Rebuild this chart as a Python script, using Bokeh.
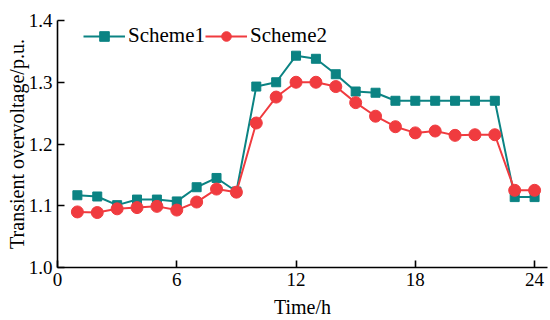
from bokeh.plotting import figure
from bokeh.models import Range1d, FixedTicker, Legend, LegendItem, PrintfTickFormatter
from bokeh.embed import file_html
from bokeh.resources import INLINE

hours = list(range(1, 25))
scheme1 = [1.117, 1.115, 1.101, 1.110, 1.110, 1.107, 1.130, 1.145, 1.123, 1.293, 1.300, 1.343,
           1.338, 1.313, 1.285, 1.283, 1.270, 1.270, 1.270, 1.270, 1.270, 1.270, 1.114, 1.114]
scheme2 = [1.090, 1.089, 1.095, 1.097, 1.099, 1.093, 1.106, 1.127, 1.122, 1.234, 1.276, 1.300,
           1.300, 1.293, 1.267, 1.245, 1.228, 1.218, 1.221, 1.214, 1.215, 1.215, 1.125, 1.125]
x_ticks = [0, 6, 12, 18, 24]
y_ticks = [1.0, 1.1, 1.2, 1.3, 1.4]

FONT = "Liberation Serif"
TEAL = "#0b8383"
RED = "#f03b3f"

p = figure(width=550, height=320, output_backend="svg", toolbar_location=None,
           x_range=Range1d(0, 24.65), y_range=Range1d(1.0, 1.4),
           min_border_left=57, min_border_right=3, min_border_top=20, min_border_bottom=52)
p.outline_line_color = None
p.xgrid.visible = False
p.ygrid.visible = False
p.background_fill_color = "white"

l1 = p.line(hours, scheme1, line_color=TEAL, line_width=2)
m1 = p.scatter(hours, scheme1, marker="square", size=9, fill_color=TEAL, line_color=TEAL)
l2 = p.line(hours, scheme2, line_color=RED, line_width=2)
m2 = p.scatter(hours, scheme2, marker="circle", size=12, fill_color=RED, line_color=RED)

for ax in (p.xaxis[0], p.yaxis[0]):
    ax.axis_line_color = "black"
    ax.axis_line_width = 1.6
    ax.major_tick_line_color = "black"
    ax.major_tick_line_width = 1.6
    ax.major_tick_in = 7
    ax.major_tick_out = 0
    ax.minor_tick_line_color = None
    ax.major_label_text_font = FONT
    ax.major_label_text_font_size = "19px"
    ax.major_label_text_color = "black"
    ax.axis_label_text_font = FONT
    ax.axis_label_text_font_size = "20px"
    ax.axis_label_text_font_style = "normal"
    ax.axis_label_text_color = "black"

p.xaxis.ticker = FixedTicker(ticks=x_ticks)
p.yaxis.ticker = FixedTicker(ticks=y_ticks)
p.yaxis.formatter = PrintfTickFormatter(format="%.1f")
p.xaxis.axis_label = "Time/h"
p.yaxis.axis_label = "Transient overvoltage/p.u."
p.xaxis.major_label_standoff = 5
p.xaxis.axis_label_standoff = 7
p.yaxis.major_label_standoff = 5
p.yaxis.axis_label_standoff = -2

legend = Legend(items=[LegendItem(label="Scheme1", renderers=[l1, m1]),
                       LegendItem(label="Scheme2", renderers=[l2, m2])],
                orientation="horizontal", location=(26, 219),
                glyph_width=42, glyph_height=24, label_height=24, label_standoff=3,
                spacing=0, padding=0, margin=0,
                border_line_color=None, background_fill_alpha=0,
                label_text_font=FONT, label_text_font_size="21px", label_text_color="black")
p.add_layout(legend, "center")

open("out.html", "w").write(file_html(p, INLINE))
